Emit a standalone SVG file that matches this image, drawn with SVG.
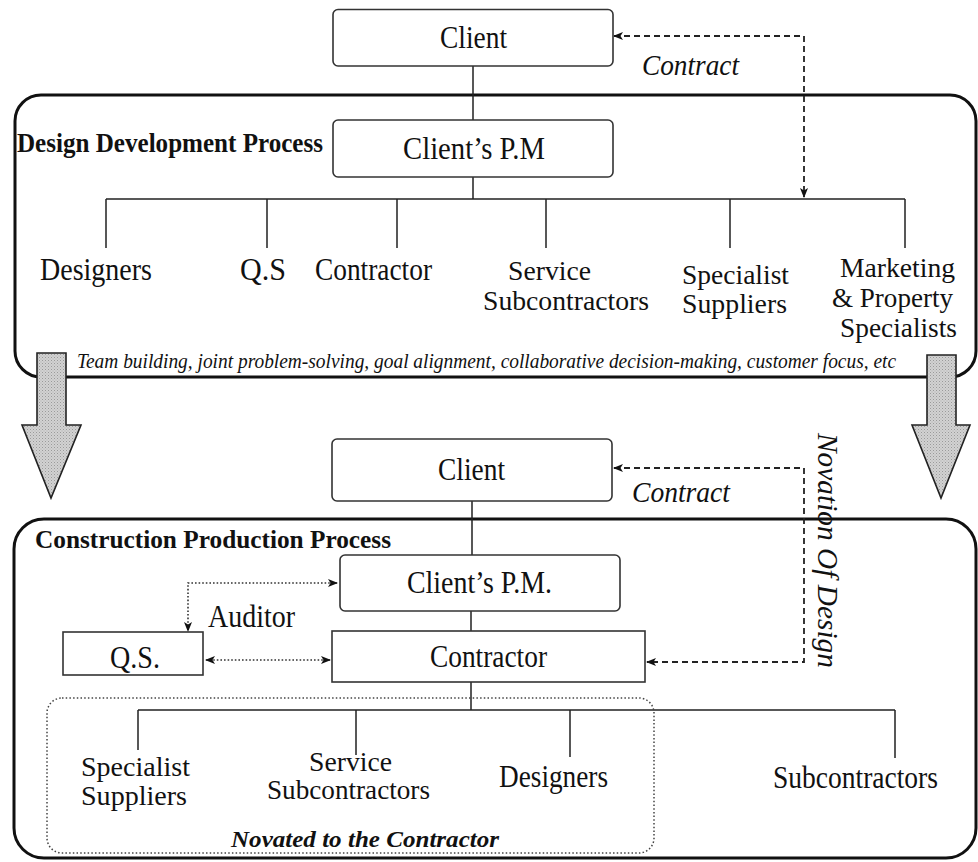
<svg xmlns="http://www.w3.org/2000/svg" width="978" height="862" viewBox="0 0 978 862">
  <style>
    .bg { fill: #ffffff; }
    .frame { fill: none; stroke: #111; stroke-width: 3; }
    .box { fill: #fff; stroke: #333; stroke-width: 1.6; }
    .wire { fill: none; stroke: #222; stroke-width: 1.5; }
    .dash { fill: none; stroke: #222; stroke-width: 1.8; stroke-dasharray: 6 4; }
    .dot { fill: none; stroke: #333; stroke-width: 1.6; stroke-dasharray: 1.6 2; }
    .novated { fill: none; stroke: #444; stroke-width: 1.5; stroke-dasharray: 1.5 2.2; }
    .big { fill: url(#stipple); stroke: #222; stroke-width: 1.6; }
    text { font-family: "Liberation Serif", "Times New Roman", serif; fill: #111; }
    .lbl { font-size: 31px; }
    .ml { font-size: 28px; }
    .mid { text-anchor: middle; }
    .it { font-style: italic; }
    .bold { font-weight: bold; }
  </style>
  <defs>
    <marker id="tip" viewBox="0 0 10 10" refX="9" refY="5" markerWidth="10" markerHeight="10" markerUnits="userSpaceOnUse" orient="auto-start-reverse">
      <path d="M0,1 L10,5 L0,9 L2.5,5 Z" fill="#111"/>
    </marker>
    <pattern id="stipple" width="3" height="3" patternUnits="userSpaceOnUse">
      <rect width="3" height="3" fill="#d2d2d2"/>
      <rect x="0" y="0" width="1" height="1" fill="#9a9a9a"/>
      <rect x="1.5" y="1.5" width="1" height="1" fill="#b0b0b0"/>
    </pattern>
  </defs>

  <rect class="bg" width="978" height="862"/>

  <!-- Design development stage frame -->
  <g id="design-frame">
    <rect class="frame" x="15" y="95" width="961" height="282" rx="26"/>
    <text class="bold" x="17" y="152" font-size="28" textLength="306" lengthAdjust="spacingAndGlyphs">Design Development Process</text>
    <text class="it" x="77" y="368" font-size="20" textLength="819" lengthAdjust="spacingAndGlyphs">Team building, joint problem-solving, goal alignment, collaborative decision-making, customer focus, etc</text>
  </g>

  <!-- Construction production stage frame -->
  <g id="construction-frame">
    <rect class="frame" x="14" y="519" width="962" height="339" rx="30"/>
    <text class="bold" x="35" y="548" font-size="26" textLength="356" lengthAdjust="spacingAndGlyphs">Construction  Production Process</text>
  </g>

  <!-- Transition arrows between stages -->
  <g id="stage-arrows">
    <path class="big" d="M37,353 H66 V425 H81 L51,498 L22,425 H37 Z"/>
    <path class="big" d="M927,355 H956 V425 H970 L941,498 L912,425 H927 Z"/>
  </g>

  <!-- Connectors -->
  <g id="connectors">
    <!-- upper tree -->
    <path class="wire" d="M473,66 V120 M473,177 V199 M106,199 H905 M106,199 V248 M267,199 V248 M397,199 V248 M546,199 V248 M730,199 V248 M905,199 V248"/>
    <path class="dash" d="M614,36 H804 V197" marker-start="url(#tip)" marker-end="url(#tip)"/>
    <!-- lower tree -->
    <path class="wire" d="M472,501 V555 M471,611 V631 M471,682 V710 M138,710 H895 M138,710 V750 M356,710 V755 M570,710 V757 M895,710 V758"/>
    <path class="dash" d="M614,468 H804 V662 H647" marker-start="url(#tip)" marker-end="url(#tip)"/>
    <path class="dot" d="M337,583 H188 V631" marker-start="url(#tip)" marker-end="url(#tip)"/>
    <path class="dot" d="M206,660 H330" marker-start="url(#tip)" marker-end="url(#tip)"/>
  </g>

  <!-- Upper stage nodes -->
  <g id="client-top">
    <rect class="box" x="333" y="9.5" width="280" height="56.5" rx="5"/>
    <text class="lbl mid" x="473.5" y="48" textLength="67" lengthAdjust="spacingAndGlyphs">Client</text>
  </g>
  <g id="contract-top">
    <text class="it" x="642" y="75" font-size="29" textLength="97" lengthAdjust="spacingAndGlyphs">Contract</text>
  </g>
  <g id="pm-top">
    <rect class="box" x="333" y="120" width="280" height="57" rx="5"/>
    <text class="lbl mid" x="474" y="159" textLength="142" lengthAdjust="spacingAndGlyphs">Client’s P.M</text>
  </g>
  <g id="designers-top">
    <text class="lbl" x="40" y="280" textLength="112" lengthAdjust="spacingAndGlyphs">Designers</text>
  </g>
  <g id="qs-top">
    <text class="lbl" x="240" y="280" textLength="46" lengthAdjust="spacingAndGlyphs">Q.S</text>
  </g>
  <g id="contractor-top">
    <text class="lbl" x="315" y="280" textLength="117" lengthAdjust="spacingAndGlyphs">Contractor</text>
  </g>
  <g id="service-top">
    <text class="ml" x="508" y="280" textLength="83" lengthAdjust="spacingAndGlyphs">Service</text>
    <text class="ml" x="483" y="310" textLength="166" lengthAdjust="spacingAndGlyphs">Subcontractors</text>
  </g>
  <g id="specialist-top">
    <text class="ml" x="682" y="284" textLength="107" lengthAdjust="spacingAndGlyphs">Specialist</text>
    <text class="ml" x="682" y="313" textLength="105" lengthAdjust="spacingAndGlyphs">Suppliers</text>
  </g>
  <g id="marketing-top">
    <text class="ml" x="840" y="277" textLength="115" lengthAdjust="spacingAndGlyphs">Marketing</text>
    <text class="ml" x="832" y="307" textLength="121" lengthAdjust="spacingAndGlyphs">&amp; Property</text>
    <text class="ml" x="840" y="337" textLength="117" lengthAdjust="spacingAndGlyphs">Specialists</text>
  </g>

  <!-- Lower stage nodes -->
  <g id="client-bottom">
    <rect class="box" x="332" y="439" width="280" height="62" rx="5"/>
    <text class="lbl mid" x="471.5" y="480" textLength="67" lengthAdjust="spacingAndGlyphs">Client</text>
  </g>
  <g id="contract-bottom">
    <text class="it" x="632" y="502" font-size="29" textLength="98" lengthAdjust="spacingAndGlyphs">Contract</text>
  </g>
  <g id="novation">
    <text class="it" x="0" y="0" font-size="30" transform="translate(818,433) rotate(90)" textLength="235" lengthAdjust="spacingAndGlyphs">Novation Of Design</text>
  </g>
  <g id="pm-bottom">
    <rect class="box" x="340" y="555" width="280" height="56" rx="5"/>
    <text class="lbl mid" x="479.5" y="593" textLength="145" lengthAdjust="spacingAndGlyphs">Client’s P.M.</text>
  </g>
  <g id="auditor">
    <text class="lbl" x="208" y="627" textLength="87" lengthAdjust="spacingAndGlyphs">Auditor</text>
  </g>
  <g id="qs-bottom">
    <rect class="box" x="63" y="632" width="140" height="43"/>
    <text class="lbl" x="110" y="668" textLength="50" lengthAdjust="spacingAndGlyphs">Q.S.</text>
  </g>
  <g id="contractor-bottom">
    <rect class="box" x="332" y="631" width="313" height="51"/>
    <text class="lbl" x="430" y="667" textLength="117" lengthAdjust="spacingAndGlyphs">Contractor</text>
  </g>
  <g id="novated-group">
    <rect class="novated" x="47" y="698" width="607" height="155" rx="15"/>
    <text class="bold it" x="231" y="847" font-size="24" textLength="268" lengthAdjust="spacingAndGlyphs">Novated to the Contractor</text>
  </g>
  <g id="specialist-bottom">
    <text class="ml" x="81" y="776" textLength="109" lengthAdjust="spacingAndGlyphs">Specialist</text>
    <text class="ml" x="81" y="805" textLength="106" lengthAdjust="spacingAndGlyphs">Suppliers</text>
  </g>
  <g id="service-bottom">
    <text class="ml" x="309" y="771" textLength="83" lengthAdjust="spacingAndGlyphs">Service</text>
    <text class="ml" x="267" y="799" textLength="163" lengthAdjust="spacingAndGlyphs">Subcontractors</text>
  </g>
  <g id="designers-bottom">
    <text class="lbl" x="499" y="787" textLength="109" lengthAdjust="spacingAndGlyphs">Designers</text>
  </g>
  <g id="subcontractors-bottom">
    <text class="lbl" x="773" y="788" textLength="165" lengthAdjust="spacingAndGlyphs">Subcontractors</text>
  </g>
</svg>
